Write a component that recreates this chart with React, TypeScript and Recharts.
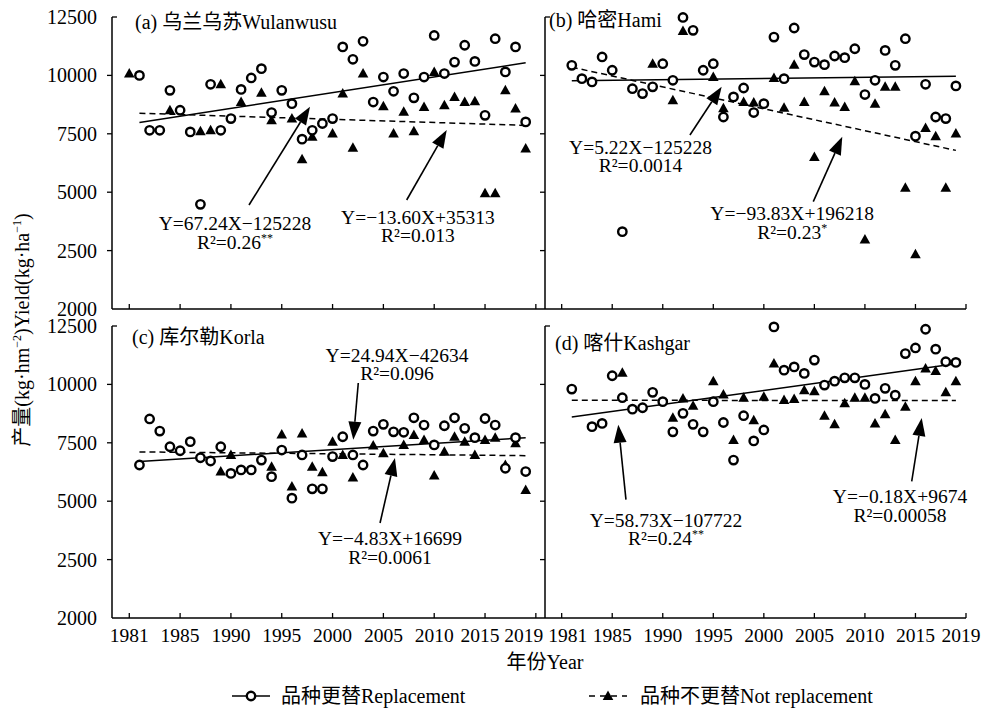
import { ComposedChart, Scatter, Line, XAxis, YAxis, ReferenceLine, ReferenceDot } from "recharts";

const FONT = "'Liberation Serif', 'Times New Roman', 'Noto Sans CJK SC', serif";

// years 1980..2019, one value per year (null = no point drawn)
const years = [
  1980, 1981, 1982, 1983, 1984, 1985, 1986, 1987, 1988, 1989,
  1990, 1991, 1992, 1993, 1994, 1995, 1996, 1997, 1998, 1999,
  2000, 2001, 2002, 2003, 2004, 2005, 2006, 2007, 2008, 2009,
  2010, 2011, 2012, 2013, 2014, 2015, 2016, 2017, 2018, 2019,
];

const xTicks = [1980, 1985, 1990, 1995, 2000, 2005, 2010, 2015, 2020];
const xTickLabels = ["1981", "1985", "1990", "1995", "2000", "2005", "2010", "2015", "2019"];
const yTicks = [0, 2500, 5000, 7500, 10000, 12500];
const yTickLabels = ["2000", "2500", "5000", "7500", "10000", "12500"];

// (a) Wulanwusu
const replacementA = [
  null, 10000, 7650, 7650, 9360, 8510, 7580, 4480, 9620, 7650,
  8150, 9400, 9890, 10290, 8410, 9360, 8790, 7270, 7650, 7940,
  8150, 11220, 10690, 11460, 8860, 9930, 9320, 10080, 9040, 9930,
  11710, 10080, 10570, 11290, 10600, 8290, 11570, 10150, 11220, 8010,
];
const notReplacementA = [
  10080, null, null, null, 8510, null, null, 7610, 7650, 9620,
  null, 8860, null, 9260, 8080, null, 8150, 6410, 7370, null,
  7510, 9220, 6900, 10080, null, 8680, 7510, 8440, 7610, 8650,
  10150, 8720, 9080, 8860, 8890, 4950, 4950, 9360, 8580, 6870,
];

// (b) Hami
const replacementB = [
  null, 10430, 9860, 9720, 10790, 10220, 3310, 9430, 9220, 9510,
  10500, 9790, 12480, 11930, 10220, 10500, 8220, 9080, 9460, 8410,
  8790, 11640, 9860, 12030, 10890, 10570, 10460, 10830, 10760, 11140,
  9180, 9790, 11070, 10430, 11570, 7400, 9620, 8220, 8150, 9550,
];
const notReplacementB = [
  null, null, null, null, null, null, null, null, null, 10500,
  null, 8940, 11900, null, null, 9930, 8590, null, 8860, 8840,
  null, 9890, 8610, 10460, 8860, 6510, 9320, 8840, 8650, 9750,
  2980, 8790, 9510, 9510, 5190, 2340, 7750, 7400, 5190, 7510,
];

// (c) Korla
const replacementC = [
  null, 6550, 8520, 8000, 7330, 7160, 7550, 6860, 6720, 7330,
  6190, 6340, 6340, 6760, 6050, 7190, 5130, 6980, 5530, 5530,
  6910, 7760, 6980, 6550, 8000, 8290, 7970, 7950, 8570, 8260,
  7410, 8230, 8570, 8120, 7720, 8540, 8260, 6410, 7720, 6270,
];
const notReplacementC = [
  null, null, null, null, null, null, null, null, null, 6270,
  6980, null, null, null, 6480, 7860, 5630, 7900, 6480, 6240,
  7550, 6980, 6010, null, 7380, 7050, null, 7410, 7830, 7620,
  6100, 7120, 7760, 7550, 6980, 7620, 7720, 6550, 7480, 5480,
];

// (d) Kashgar
const replacementD = [
  null, 9800, null, 8190, 8330, 10370, 9430, 8940, 9000, 9660,
  9260, 7970, 8760, 8290, 7970, 9260, 8370, 6760, 8660, 7580,
  8050, 12460, 10610, 10750, 10470, 11040, 9970, 10140, 10280, 10280,
  10000, 9400, 9830, 9540, 11320, 11560, 12360, 11510, 10970, 10940,
];
const notReplacementD = [
  null, null, null, null, null, null, 10500, null, null, null,
  null, 8570, 9400, 9090, null, 10140, 9570, 7620, 9430, 8470,
  9470, 10890, 9330, 9370, 9750, 9710, 8660, 8290, 9190, 9430,
  9430, 8330, 8720, 7620, 9040, 10140, 10680, 10570, 9660, 10140,
];

// fitted lines, values at 1981 and 2019
const trendYears = [1981, 2019];
const solidA = [7980, 10540];
const dashedA = [8380, 7860];
const solidB = [9770, 9960];
const dashedB = [10350, 6790];
const solidC = [6700, 7720];
const dashedC = [7110, 6950];
const solidD = [8600, 10880];
const dashedD = [9320, 9310];

const toPoints = (vals: (number | null)[]) =>
  years.map((x, i) => ({ x, y: vals[i] })).filter((p) => p.y !== null);
const toTrend = (vals: number[]) => trendYears.map((x, i) => ({ x, y: vals[i] }));

type Note = {
  eq: string;
  r2: string;
  sig?: string;
  at: [number, number];
  from: [number, number];
  to: [number, number];
};

function Ring(props: any) {
  const { cx, cy } = props;
  if (cx == null || cy == null) return null;
  return <circle cx={cx} cy={cy} r={4.2} fill="#fff" stroke="#000" strokeWidth={2.4} />;
}

function Tri(props: any) {
  const { cx, cy } = props;
  if (cx == null || cy == null) return null;
  return (
    <polygon
      points={`${cx},${cy - 5.5} ${cx + 5.3},${cy + 4} ${cx - 5.3},${cy + 4}`}
      fill="#000"
    />
  );
}

function Arrow(props: any) {
  const { x1, y1, x2, y2 } = props;
  if ([x1, y1, x2, y2].some((v) => v == null)) return null;
  const dx = x2 - x1;
  const dy = y2 - y1;
  const len = Math.hypot(dx, dy) || 1;
  const ux = dx / len;
  const uy = dy / len;
  const hl = 18;
  const hw = 6.5;
  const bx = x2 - ux * hl;
  const by = y2 - uy * hl;
  return (
    <g>
      <line x1={x1} y1={y1} x2={bx} y2={by} stroke="#000" strokeWidth={1.6} />
      <polygon
        points={`${x2},${y2} ${bx - uy * hw},${by + ux * hw} ${bx + uy * hw},${by - ux * hw}`}
        fill="#000"
      />
    </g>
  );
}

function NoteText({ cx, cy, note }: { cx: number; cy: number; note: Note }) {
  if (cx == null || cy == null) return null;
  return (
    <text x={cx} y={cy} textAnchor="middle" fontFamily={FONT} fontSize={19.5} fill="#000">
      <tspan x={cx} dy={0}>{note.eq}</tspan>
      <tspan x={cx} dy={18.5}>
        R²={note.r2}
        {note.sig ? (
          <tspan dy={-7} fontSize={12}>
            {note.sig}
          </tspan>
        ) : null}
      </tspan>
    </text>
  );
}

const makeXTick = (showLabel: boolean, side: "left" | "right") => (props: any) => {
  const { x, y, payload } = props;
  const v = payload.value;
  const i = xTicks.indexOf(v);
  let dx = 0;
  if (side === "left" && v === 2015) dx = -5;
  if (side === "left" && v === 2020) dx = -12;
  if (side === "right" && v === 1980) dx = 6;
  if (side === "right" && v === 2020) dx = -5;
  return (
    <g>
      <line x1={x} y1={y} x2={x} y2={y - 5} stroke="#000" strokeWidth={1.3} />
      {showLabel ? (
        <text x={x + dx} y={y + 24} textAnchor="middle" fontFamily={FONT} fontSize={19.5} fill="#000">
          {xTickLabels[i]}
        </text>
      ) : null}
    </g>
  );
};

const makeYTick = (showLabel: boolean) => (props: any) => {
  const { x, y, payload } = props;
  const v = payload.value;
  const i = yTicks.indexOf(v);
  let tick = null;
  if (v === 12500) tick = <line x1={x} y1={y} x2={x + 5} y2={y} stroke="#000" strokeWidth={1.3} />;
  else if (v !== 0) tick = <line x1={x - 5} y1={y} x2={x} y2={y} stroke="#000" strokeWidth={1.3} />;
  return (
    <g>
      {tick}
      {showLabel ? (
        <text x={x - 15} y={y + 7} textAnchor="end" fontFamily={FONT} fontSize={20} fill="#000">
          {yTickLabels[i]}
        </text>
      ) : null}
    </g>
  );
};

type PanelProps = {
  left: number;
  top: number;
  width: number;
  height: number;
  marginTop: number;
  yWidth: number;
  xHeight: number;
  domain: [number, number];
  side: "left" | "right";
  showX: boolean;
  circles: (number | null)[];
  triangles: (number | null)[];
  solid: number[];
  dashed: number[];
  notes: Note[];
};

function Panel(p: PanelProps) {
  const axisLine = { stroke: "#000", strokeWidth: 1.5 };
  return (
    <div style={{ position: "absolute", left: p.left, top: p.top }}>
      <ComposedChart
        width={p.width}
        height={p.height}
        margin={{ top: p.marginTop, right: 15, bottom: 0, left: 0 }}
      >
        <XAxis
          type="number"
          dataKey="x"
          domain={p.domain}
          ticks={xTicks}
          interval={0}
          height={p.xHeight}
          tickLine={false}
          tickSize={0}
          tickMargin={0}
          axisLine={axisLine}
          tick={makeXTick(p.showX, p.side)}
        />
        <YAxis
          type="number"
          dataKey="y"
          domain={[0, 12500]}
          ticks={yTicks}
          interval={0}
          width={p.yWidth}
          tickLine={false}
          tickSize={0}
          tickMargin={0}
          axisLine={axisLine}
          tick={makeYTick(p.side === "left")}
        />
        <Line
          data={toTrend(p.solid)}
          dataKey="y"
          type="linear"
          stroke="#000"
          strokeWidth={1.5}
          dot={false}
          activeDot={false}
          isAnimationActive={false}
        />
        <Line
          data={toTrend(p.dashed)}
          dataKey="y"
          type="linear"
          stroke="#000"
          strokeWidth={1.5}
          strokeDasharray="6 4"
          dot={false}
          activeDot={false}
          isAnimationActive={false}
        />
        <Scatter data={toPoints(p.triangles)} dataKey="y" shape={Tri} isAnimationActive={false} />
        <Scatter data={toPoints(p.circles)} dataKey="y" shape={Ring} isAnimationActive={false} />
        {p.notes.map((n, k) => (
          <ReferenceLine
            key={`a${k}`}
            segment={[
              { x: n.from[0], y: n.from[1] },
              { x: n.to[0], y: n.to[1] },
            ]}
            ifOverflow="visible"
            shape={(sp: any) => <Arrow {...sp} />}
          />
        ))}
        {p.notes.map((n, k) => (
          <ReferenceDot
            key={`t${k}`}
            x={n.at[0]}
            y={n.at[1]}
            r={0}
            ifOverflow="visible"
            shape={(sp: any) => <NoteText cx={sp.cx} cy={sp.cy} note={n} />}
          />
        ))}
      </ComposedChart>
    </div>
  );
}

const notesA: Note[] = [
  { eq: "Y=67.24X−125228", r2: "0.26", sig: "**", at: [1990.4, 3370], from: [1991.78, 4452], to: [1997.78, 8660] },
  { eq: "Y=−13.60X+35313", r2: "0.013", at: [2008.4, 3650], from: [2007.29, 4666], to: [2011.23, 7663] },
];
const notesB: Note[] = [
  { eq: "Y=5.22X−125228", r2: "0.0014", at: [1987.8, 6650], from: [1992.69, 7449], to: [1995.83, 9517] },
  { eq: "Y=−93.83X+196218", r2: "0.23", sig: "*", at: [2002.8, 3800], from: [2004.89, 4594], to: [2007.76, 7376] },
];
const notesC: Note[] = [
  { eq: "Y=24.94X−42634", r2: "0.096", at: [2006.34, 10970], from: [2002.53, 10060], to: [2002.04, 7633] },
  { eq: "Y=−4.83X+16699", r2: "0.0061", at: [2005.65, 3125], from: [2004.67, 4067], to: [2006.14, 6850] },
];
const notesD: Note[] = [
  { eq: "Y=58.73X−107722", r2: "0.24", sig: "**", at: [1990.32, 3910], from: [1986.36, 5064], to: [1985.6, 8275] },
  { eq: "Y=−0.18X+9674", r2: "0.00058", at: [2013.47, 4910], from: [2014.63, 5852], to: [2015.62, 8562] },
];

const LEFT_DOMAIN: [number, number] = [1978.3, 2020.9];
const RIGHT_DOMAIN: [number, number] = [1978.35, 2020];

function Title({ x, y, children }: { x: number; y: number; children: any }) {
  return (
    <div
      style={{
        position: "absolute",
        left: x,
        top: y - 12,
        fontSize: 20,
        lineHeight: "24px",
        whiteSpace: "nowrap",
      }}
    >
      {children}
    </div>
  );
}

export default function App() {
  return (
    <div
      style={{
        position: "absolute",
        left: 0,
        top: 0,
        width: 981,
        height: 712,
        background: "#fff",
        fontFamily: FONT,
        color: "#000",
        overflow: "hidden",
      }}
    >
      <Panel left={0} top={0} width={560} height={330} marginTop={17} yWidth={112} xHeight={21}
        domain={LEFT_DOMAIN} side="left" showX={false}
        circles={replacementA} triangles={notReplacementA} solid={solidA} dashed={dashedA} notes={notesA} />
      <Panel left={535} top={0} width={446} height={330} marginTop={17} yWidth={10} xHeight={21}
        domain={RIGHT_DOMAIN} side="right" showX={false}
        circles={replacementB} triangles={notReplacementB} solid={solidB} dashed={dashedB} notes={notesB} />
      <Panel left={0} top={312} width={560} height={348} marginTop={14} yWidth={112} xHeight={42}
        domain={LEFT_DOMAIN} side="left" showX={true}
        circles={replacementC} triangles={notReplacementC} solid={solidC} dashed={dashedC} notes={notesC} />
      <Panel left={535} top={312} width={446} height={348} marginTop={14} yWidth={10} xHeight={42}
        domain={RIGHT_DOMAIN} side="right" showX={true}
        circles={replacementD} triangles={notReplacementD} solid={solidD} dashed={dashedD} notes={notesD} />

      <Title x={135} y={22}>(a) 乌兰乌苏Wulanwusu</Title>
      <Title x={549} y={20}>(b) 哈密Hami</Title>
      <Title x={132} y={337}>(c) 库尔勒Korla</Title>
      <Title x={555} y={343}>(d) 喀什Kashgar</Title>

      <div
        style={{
          position: "absolute",
          left: 20,
          top: 330,
          transform: "translate(-50%, -50%) rotate(-90deg)",
          fontSize: 20,
          whiteSpace: "nowrap",
        }}
      >
        产量(kg·hm<sup style={{ fontSize: 12 }}>−2</sup>)Yield(kg·ha<sup style={{ fontSize: 12 }}>−1</sup>)
      </div>

      <div
        style={{
          position: "absolute",
          left: 545,
          top: 660,
          transform: "translate(-50%, -50%)",
          fontSize: 20,
          whiteSpace: "nowrap",
        }}
      >
        年份Year
      </div>

      <svg style={{ position: "absolute", left: 226, top: 686 }} width={50} height={20}>
        <line x1={6} y1={10} x2={44} y2={10} stroke="#000" strokeWidth={1.6} />
        <circle cx={25} cy={10} r={4.2} fill="#fff" stroke="#000" strokeWidth={2.4} />
      </svg>
      <div style={{ position: "absolute", left: 281, top: 684, fontSize: 20, lineHeight: "24px", whiteSpace: "nowrap" }}>
        品种更替Replacement
      </div>

      <svg style={{ position: "absolute", left: 586, top: 686 }} width={44} height={20}>
        <line x1={3} y1={10} x2={41} y2={10} stroke="#000" strokeWidth={1.6} strokeDasharray="6 5" />
        <polygon points="22,4.5 27.3,14 16.7,14" fill="#000" />
      </svg>
      <div style={{ position: "absolute", left: 640, top: 684, fontSize: 20, lineHeight: "24px", whiteSpace: "nowrap" }}>
        品种不更替Not replacement
      </div>
    </div>
  );
}
